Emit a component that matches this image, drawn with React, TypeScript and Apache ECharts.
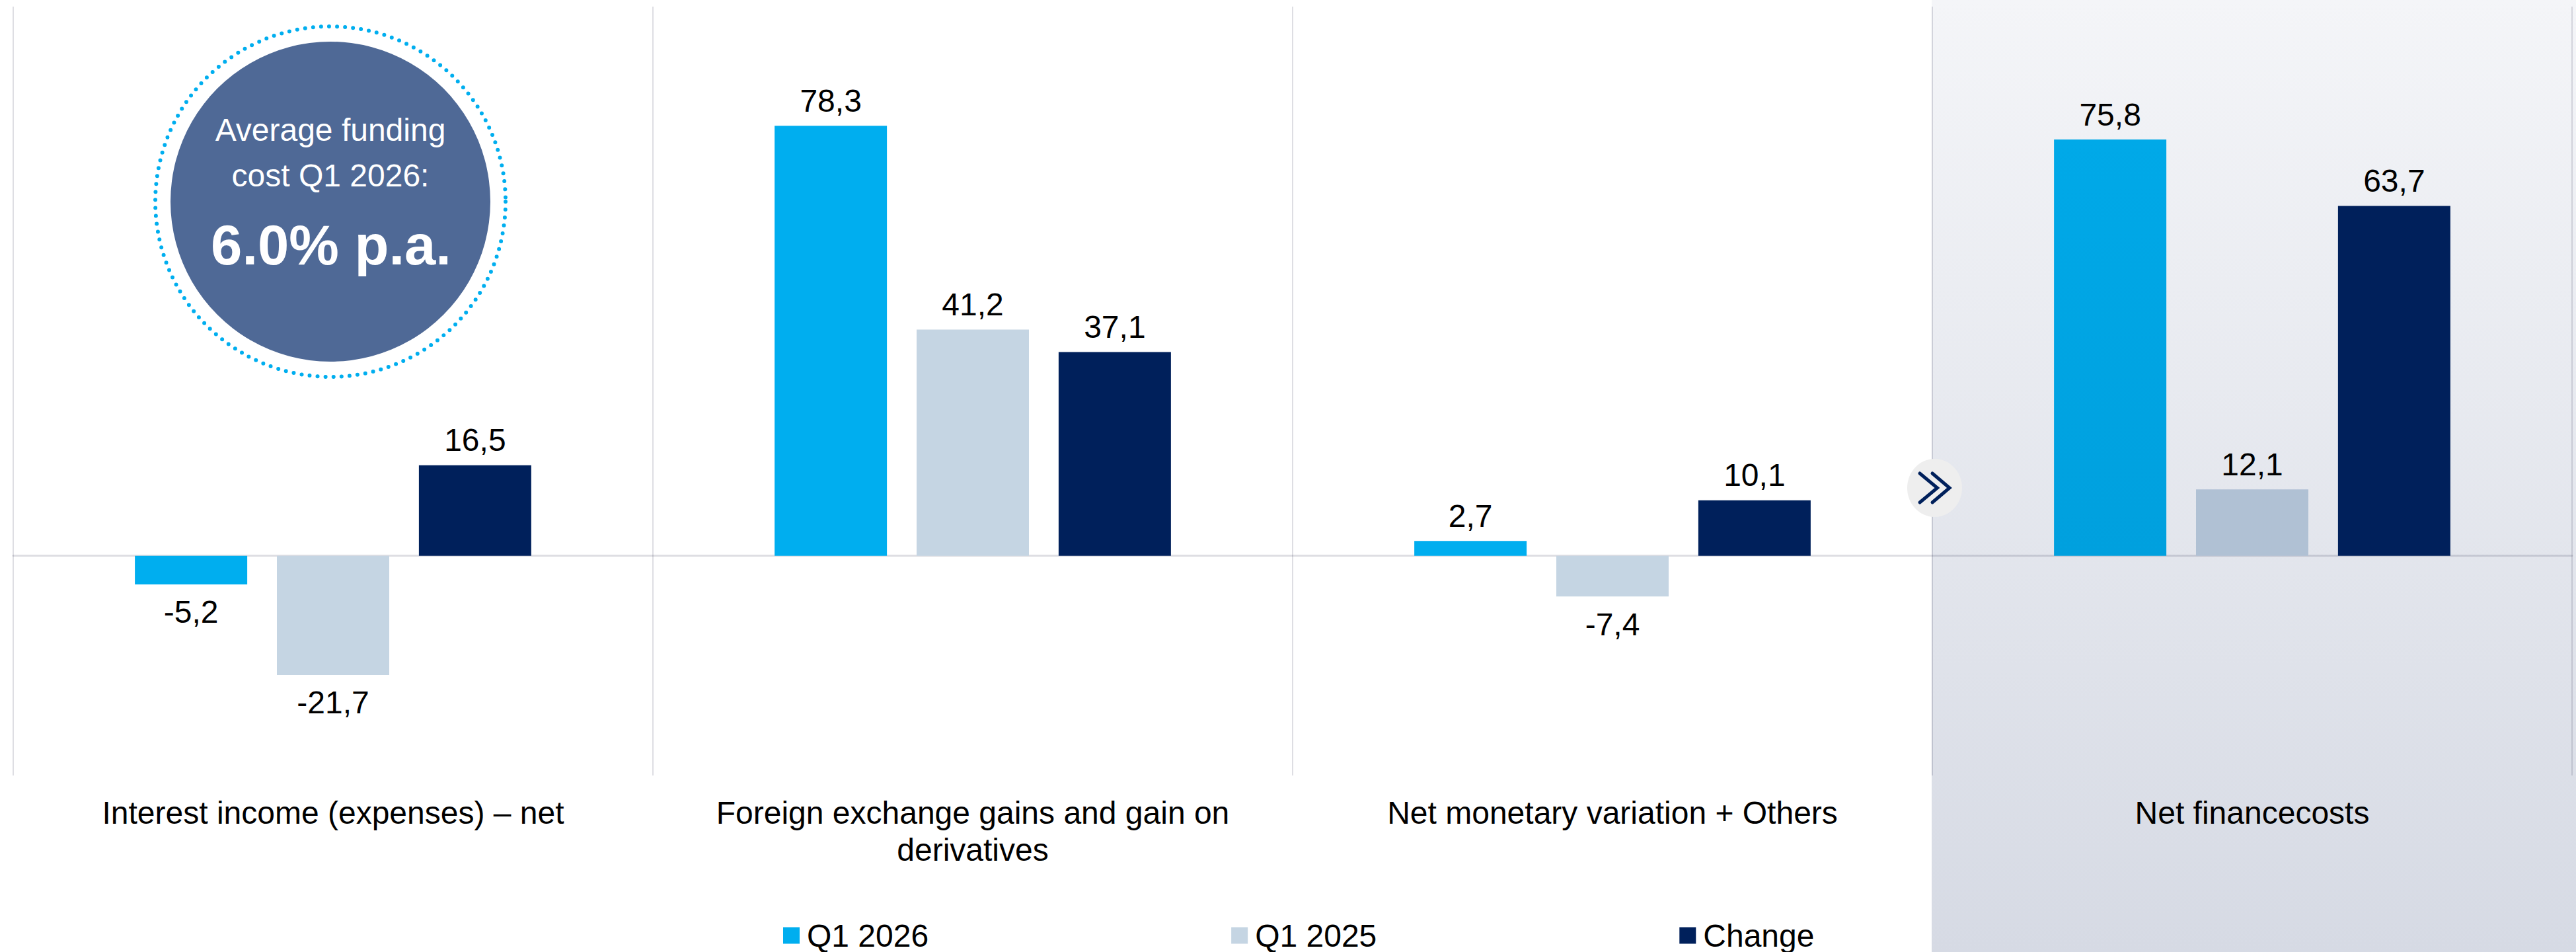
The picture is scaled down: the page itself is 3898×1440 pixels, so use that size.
import React, { useEffect, useRef } from "react";
import * as echarts from "echarts";

const categories = [
  "Interest income (expenses) – net",
  "Foreign exchange gains and gain on\nderivatives",
  "Net monetary variation + Others",
  "Net financecosts",
];
const q12026 = [-5.2, 78.3, 2.7, 75.8];
const q12025 = [-21.7, 41.2, -7.4, 12.1];
const change = [16.5, 37.1, 10.1, 63.7];
const seriesNames = ["Q1 2026", "Q1 2025", "Change"];
const FONT = '"Liberation Sans", Arial, sans-serif';

const panelColors: any[] = [
  { type: "linear", x: 0, y: 0, x2: 0, y2: 1, colorStops: [{ offset: 0, color: "#00a9e8" }, { offset: 1, color: "#00a0de" }] },
  "#b0c1d4",
  "#00205b",
];
const baseColors = ["#00aeef", "#c5d5e3", "#00205b"];
const LINE = "rgba(0,0,40,0.13)";

function makeSeries(i: number, values: number[]) {
  return {
    type: "bar",
    name: seriesNames[i],
    barWidth: 170,
    barGap: "26.4%",
    itemStyle: { color: baseColors[i] },
    label: {
      show: true,
      position: "outside",
      distance: 14,
      fontFamily: FONT,
      fontSize: 48,
      color: "#000",
      formatter: (p: any) => String(p.value.toFixed(1)).replace(".", ","),
    },
    data: values.map((v, k) => ({
      value: v,
      ...(k === 3 ? { itemStyle: { color: panelColors[i] } } : {}),
      ...(v < 0 ? { label: { distance: 18 } } : {}),
    })),
  };
}

export default function App() {
  const ref = useRef<HTMLDivElement>(null);
  useEffect(() => {
    const chart = echarts.init(ref.current!, undefined, { renderer: "svg", width: 3898, height: 1440 });
    chart.setOption({
      animation: false,
      backgroundColor: "#fff",
      textStyle: { fontFamily: FONT },
      grid: { left: 20, right: 6, top: 10, height: 1163, containLabel: false },
      legend: {
        data: seriesNames,
        left: 1185,
        top: 1391,
        padding: 0,
        icon: "rect",
        itemWidth: 25,
        itemHeight: 25,
        itemGap: 458,
        textStyle: { fontFamily: FONT, fontSize: 48, color: "#000", padding: [0, 0, 0, 6] },
      },
      xAxis: [
        {
          type: "category",
          data: categories,
          position: "bottom",
          axisLine: { show: false, onZero: false },
          axisTick: { show: false },
          splitLine: { show: true, lineStyle: { color: LINE, width: 2 } },
          axisLabel: {
            interval: 0,
            margin: 28,
            fontFamily: FONT,
            fontSize: 48,
            lineHeight: 56,
            color: "#000",
            align: "center",
            verticalAlign: "top",
          },
        },
        {
          type: "category",
          data: categories,
          axisLine: { show: true, onZero: true, lineStyle: { color: LINE, width: 3 } },
          axisTick: { show: false },
          axisLabel: { show: false },
          splitLine: { show: false },
        },
      ],
      yAxis: { type: "value", min: -40, max: 100, interval: 20, show: false, splitLine: { show: false } },
      series: [makeSeries(0, q12026), makeSeries(1, q12025), makeSeries(2, change)],
      graphic: {
        elements: [
          {
            type: "rect",
            z: -10,
            silent: true,
            shape: { x: 2923, y: 0, width: 975, height: 1440 },
            style: {
              fill: {
                type: "linear", x: 0, y: 0, x2: 0, y2: 1,
                colorStops: [{ offset: 0, color: "#f4f5f8" }, { offset: 1, color: "#d6dae4" }],
              },
            },
          },
          {
            type: "circle",
            z: 10,
            shape: { cx: 500, cy: 305, r: 265 },
            style: { fill: "none", stroke: "#00aeef", lineWidth: 6, lineDash: [0, 12.1], lineCap: "round" },
          },
          { type: "circle", z: 10, shape: { cx: 500, cy: 305, r: 242 }, style: { fill: "#4f6996" } },
          {
            type: "text", z: 11, x: 500, y: 196,
            style: { text: "Average funding", fill: "#fff", font: `48px ${FONT}`, textAlign: "center", textVerticalAlign: "middle" },
          },
          {
            type: "text", z: 11, x: 500, y: 265,
            style: { text: "cost Q1 2026:", fill: "#fff", font: `48px ${FONT}`, textAlign: "center", textVerticalAlign: "middle" },
          },
          {
            type: "text", z: 11, x: 501, y: 370,
            style: { text: "6.0% p.a.", fill: "#fff", font: `bold 85px ${FONT}`, textAlign: "center", textVerticalAlign: "middle" },
          },
          { type: "ellipse", z: 12, shape: { cx: 2927.5, cy: 738, rx: 41.5, ry: 44 }, style: { fill: "#eeeeee" } },
          {
            type: "polyline", z: 13,
            shape: { points: [[2905, 716], [2931.5, 738], [2905, 760]] },
            style: { fill: "none", stroke: "#00205b", lineWidth: 5, lineCap: "round" },
          },
          {
            type: "polyline", z: 13,
            shape: { points: [[2924, 716], [2950, 738], [2924, 760]] },
            style: { fill: "none", stroke: "#00205b", lineWidth: 5, lineCap: "round" },
          },
        ],
      },
    });
    return () => chart.dispose();
  }, []);
  return <div ref={ref} style={{ position: "absolute", left: 0, top: 0, width: 3898, height: 1440 }} />;
}
